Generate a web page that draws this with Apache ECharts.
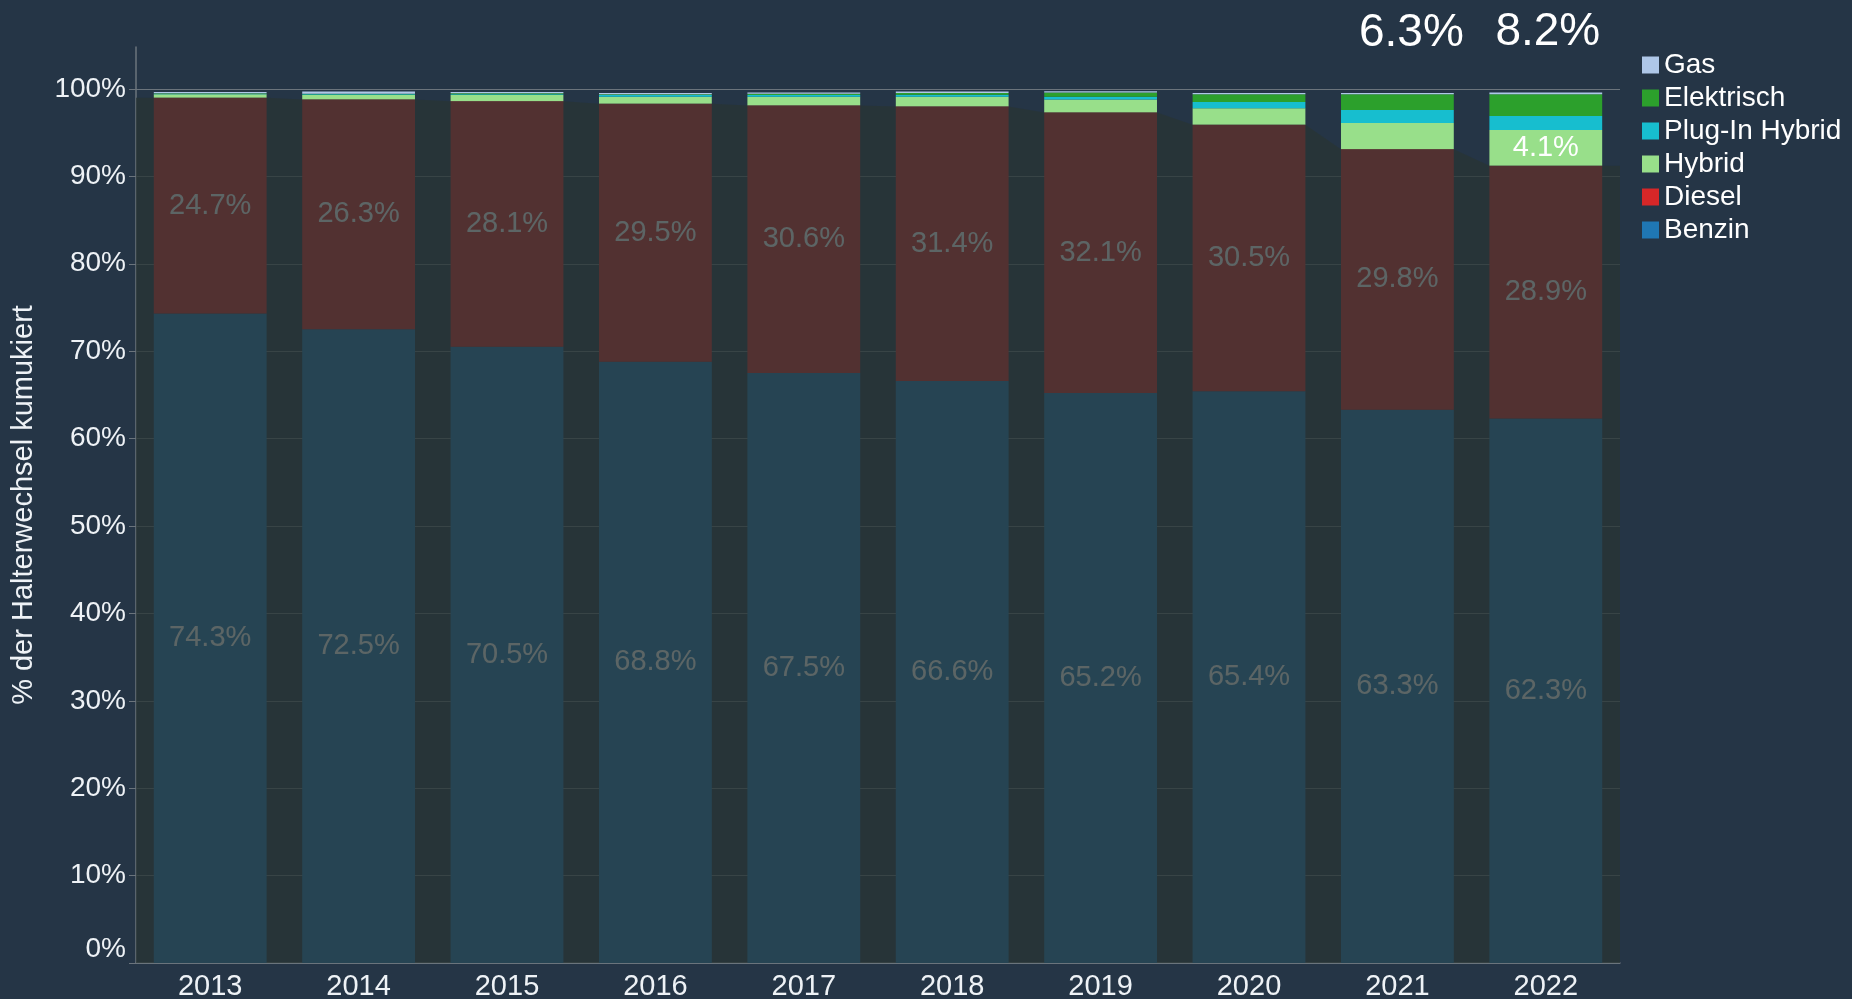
<!DOCTYPE html>
<html>
<head>
<meta charset="utf-8">
<script src="https://cdn.jsdelivr.net/npm/echarts@6/dist/echarts.min.js"></script>
<style>
  html, body { margin: 0; padding: 0; background: #253546; }
  #chart { width: 1852px; height: 999px; }
</style>
</head>
<body>
<div id="chart"></div>
<script>
// Halterwechsel nach Antriebsart, Anteile in %
const years = ['2013', '2014', '2015', '2016', '2017', '2018', '2019', '2020', '2021', '2022'];
const benzin = [74.3, 72.5, 70.5, 68.8, 67.5, 66.6, 65.2, 65.4, 63.3, 62.3];
const diesel = [24.7, 26.3, 28.1, 29.5, 30.6, 31.4, 32.1, 30.5, 29.8, 28.9];
const hybrid = [0.4, 0.5, 0.7, 0.8, 1.0, 1.1, 1.5, 1.9, 3.0, 4.1];
const plugIn = [0.05, 0.1, 0.1, 0.2, 0.2, 0.25, 0.3, 0.7, 1.5, 1.6];
const elektrisch = [0.05, 0.05, 0.1, 0.1, 0.15, 0.2, 0.5, 0.9, 1.8, 2.5];
const gas = [0.15, 0.25, 0.15, 0.15, 0.15, 0.15, 0.15, 0.15, 0.15, 0.2];
// Summe alternativer Antriebe (oben angezeigt)
const altShare = [null, null, null, null, null, null, null, null, 6.3, 8.2];
const legendNames = ['Gas', 'Elektrisch', 'Plug-In Hybrid', 'Hybrid', 'Diesel', 'Benzin'];

const FONT = 'Liberation Sans, Arial, sans-serif';
const GRID_COLOR = '#6b747c';
const HALF_BAR = 0.38;

const chart = echarts.init(document.getElementById('chart'));

// dunkle Fläche über Benzin + Diesel
const fossil = benzin.map((b, i) => +(b + diesel[i]).toFixed(2));
const shade = [[-0.5, fossil[0]]];
fossil.forEach((v, i) => {
    shade.push([i - HALF_BAR, v]);
    shade.push([i + HALF_BAR, v]);
});
shade.push([years.length - 0.5, fossil[fossil.length - 1]]);

function barSeries(name, data, color, label) {
    return {
        name: name,
        type: 'bar',
        stack: 'total',
        barWidth: '76%',
        xAxisIndex: 0,
        data: data,
        itemStyle: { color: color },
        label: label || { show: false },
        z: 2
    };
}

const innerLabel = {
    show: true,
    position: 'inside',
    color: '#ffffff',
    fontFamily: FONT,
    fontSize: 29,
    formatter: p => p.value.toFixed(1) + '%'
};

const option = {
    backgroundColor: '#253546',
    animation: false,
    textStyle: { fontFamily: FONT },
    grid: { left: 136, right: 232, top: 47, bottom: 36, containLabel: false, outerBoundsMode: 'none' },
    legend: {
        data: legendNames,
        orient: 'vertical',
        left: 1637,
        top: 46,
        icon: 'rect',
        itemWidth: 17,
        itemHeight: 17,
        itemGap: 5,
        textStyle: { color: '#ffffff', fontSize: 28, fontFamily: FONT, lineHeight: 28 }
    },
    xAxis: [{
        type: 'category',
        data: years,
        axisLine: { lineStyle: { color: GRID_COLOR, width: 1.5 } },
        axisTick: { length: 5, lineStyle: { color: GRID_COLOR } },
        axisLabel: { color: '#eef2f6', fontSize: 29, fontFamily: FONT, margin: 9 }
    }, {
        type: 'value',
        min: -0.5,
        max: years.length - 0.5,
        show: false
    }],
    yAxis: {
        type: 'value',
        min: 0,
        max: 104.8,
        interval: 10,
        name: '% der Halterwechsel kumukiert',
        nameLocation: 'middle',
        nameGap: 98,
        nameTextStyle: { color: '#eef2f6', fontSize: 29, fontFamily: FONT },
        axisLine: { show: true, onZero: false, lineStyle: { color: GRID_COLOR, width: 1.5 } },
        axisTick: { show: true, length: 7, lineStyle: { color: GRID_COLOR } },
        splitLine: { showMaxLine: false, lineStyle: { color: GRID_COLOR } },
        axisLabel: {
            showMaxLabel: false,
            color: '#eef2f6',
            fontSize: 28,
            fontFamily: FONT,
            margin: 10,
            formatter: v => v === 0 ? '{z|0%}' : v + '%',
            rich: {
                z: { color: '#eef2f6', fontSize: 28, fontFamily: FONT, padding: [0, 0, 28, 0] }
            }
        }
    },
    series: [
        barSeries('Benzin', benzin, '#1f77b4', innerLabel),
        barSeries('Diesel', diesel, '#d62728', innerLabel),
        barSeries('Hybrid', hybrid, '#98df8a', {
            show: true,
            position: 'inside',
            color: '#ffffff',
            fontFamily: FONT,
            fontSize: 29,
            formatter: p => p.dataIndex === years.length - 1 ? p.value.toFixed(1) + '%' : ''
        }),
        barSeries('Plug-In Hybrid', plugIn, '#17becf'),
        barSeries('Elektrisch', elektrisch, '#2ca02c'),
        {
            ...barSeries('Gas', gas, '#aec7e8'),
            data: gas.map((v, i) => ({
                value: v,
                label: altShare[i] != null ? {
                    show: true,
                    position: 'top',
                    distance: 37,
                    offset: [i === years.length - 2 ? 14 : 2, 0],
                    color: '#ffffff',
                    fontFamily: FONT,
                    fontSize: 46,
                    formatter: altShare[i].toFixed(1) + '%'
                } : { show: false }
            }))
        },
        {
            name: 'fossil',
            type: 'line',
            xAxisIndex: 1,
            data: shade,
            symbol: 'none',
            silent: true,
            lineStyle: { width: 0 },
            areaStyle: { color: 'rgba(41, 52, 53, 0.76)', opacity: 1 },
            z: 5
        }
    ]
};

chart.setOption(option);
</script>
</body>
</html>
